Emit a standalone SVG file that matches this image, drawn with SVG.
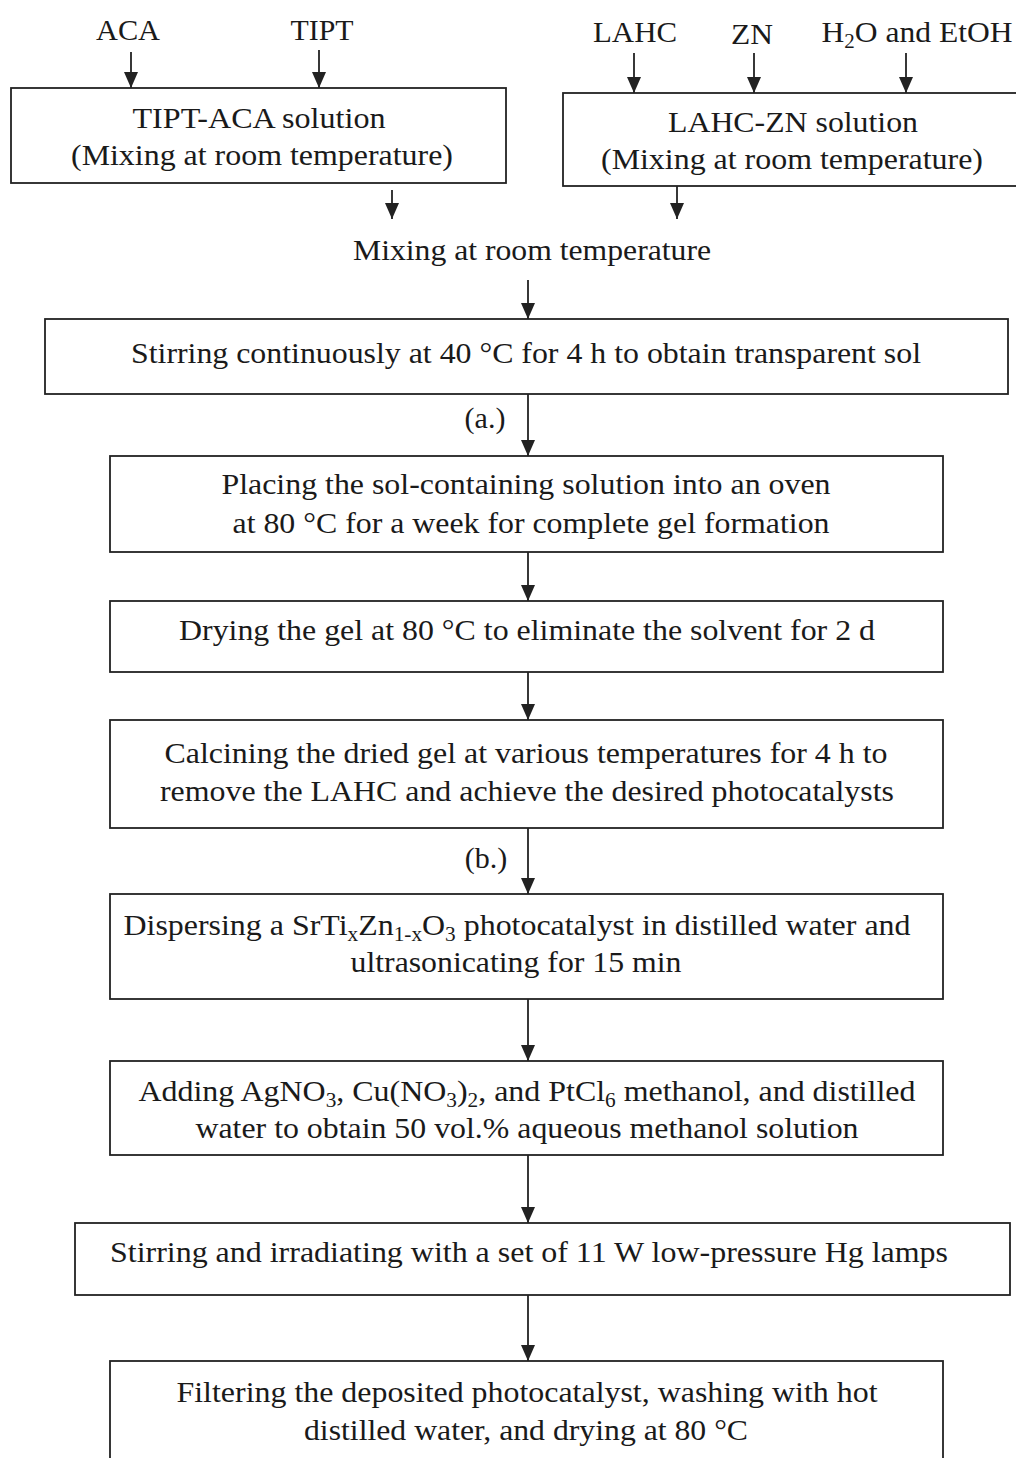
<svg xmlns="http://www.w3.org/2000/svg" width="1016" height="1458" viewBox="0 0 1016 1458">
<style>
text{font-family:"Liberation Serif","Times New Roman",serif;font-size:30px;fill:#1a1a1a;text-anchor:middle}
.box{fill:#fff;stroke:#222;stroke-width:1.8}
.con{stroke:#222;stroke-width:1.8;fill:none}
.sub{font-size:20px}
</style>
<defs>
<marker id="ah" markerUnits="userSpaceOnUse" markerWidth="18" markerHeight="14" refX="16" refY="7" orient="auto" viewBox="0 0 18 14">
<path d="M0,0 L16,7 L0,14 Z" fill="#222"/>
</marker>
</defs>
<rect width="1016" height="1458" fill="#fff"/>
<g id="inputs">
<text x="128" y="40" textLength="64" lengthAdjust="spacingAndGlyphs">ACA</text>
<text x="322" y="40" textLength="63" lengthAdjust="spacingAndGlyphs">TIPT</text>
<text x="635" y="42" textLength="84" lengthAdjust="spacingAndGlyphs">LAHC</text>
<text x="752" y="44" textLength="42" lengthAdjust="spacingAndGlyphs">ZN</text>
<text x="917" y="42" textLength="191" lengthAdjust="spacingAndGlyphs">H<tspan class="sub" dy="6">2</tspan><tspan dy="-6">O and EtOH</tspan></text>
</g>
<g id="box1"><rect class="box" x="11" y="88" width="495" height="95"/>
<text x="259" y="128" textLength="253" lengthAdjust="spacingAndGlyphs">TIPT-ACA solution</text>
<text x="262" y="165" textLength="382" lengthAdjust="spacingAndGlyphs">(Mixing at room temperature)</text></g>
<g id="box2"><rect class="box" x="563" y="93" width="460" height="93"/>
<text x="793" y="132" textLength="250" lengthAdjust="spacingAndGlyphs">LAHC-ZN solution</text>
<text x="792" y="169" textLength="382" lengthAdjust="spacingAndGlyphs">(Mixing at room temperature)</text></g>
<g id="mix"><text x="532" y="260" textLength="358" lengthAdjust="spacingAndGlyphs">Mixing at room temperature</text></g>
<g id="box3"><rect class="box" x="45" y="319" width="963" height="75"/>
<text x="526" y="363" textLength="790" lengthAdjust="spacingAndGlyphs">Stirring continuously at 40 °C for 4 h to obtain transparent sol</text></g>
<g id="box4"><rect class="box" x="110" y="456" width="833" height="96"/>
<text x="526" y="494" textLength="609" lengthAdjust="spacingAndGlyphs">Placing the sol-containing solution into an oven</text>
<text x="531" y="533" textLength="597" lengthAdjust="spacingAndGlyphs">at 80 °C for a week for complete gel formation</text></g>
<g id="box5"><rect class="box" x="110" y="601" width="833" height="71"/>
<text x="527" y="640" textLength="696" lengthAdjust="spacingAndGlyphs">Drying the gel at 80 °C to eliminate the solvent for 2 d</text></g>
<g id="box6"><rect class="box" x="110" y="720" width="833" height="108"/>
<text x="526" y="763" textLength="723" lengthAdjust="spacingAndGlyphs">Calcining the dried gel at various temperatures for 4 h to</text>
<text x="527" y="801" textLength="734" lengthAdjust="spacingAndGlyphs">remove the LAHC and achieve the desired photocatalysts</text></g>
<g id="box7"><rect class="box" x="110" y="894" width="833" height="105"/>
<text x="517" y="935" textLength="787" lengthAdjust="spacingAndGlyphs">Dispersing a SrTi<tspan class="sub" dy="6">x</tspan><tspan dy="-6">Zn</tspan><tspan class="sub" dy="6">1-x</tspan><tspan dy="-6">O</tspan><tspan class="sub" dy="6">3</tspan><tspan dy="-6"> photocatalyst in distilled water and</tspan></text>
<text x="516" y="972" textLength="331" lengthAdjust="spacingAndGlyphs">ultrasonicating for 15 min</text></g>
<g id="box8"><rect class="box" x="110" y="1061" width="833" height="94"/>
<text x="527" y="1101" textLength="777" lengthAdjust="spacingAndGlyphs">Adding AgNO<tspan class="sub" dy="6">3</tspan><tspan dy="-6">, Cu(NO</tspan><tspan class="sub" dy="6">3</tspan><tspan dy="-6">)</tspan><tspan class="sub" dy="6">2</tspan><tspan dy="-6">, and PtCl</tspan><tspan class="sub" dy="6">6</tspan><tspan dy="-6"> methanol, and distilled</tspan></text>
<text x="527" y="1138" textLength="663" lengthAdjust="spacingAndGlyphs">water to obtain 50 vol.% aqueous methanol solution</text></g>
<g id="box9"><rect class="box" x="75" y="1223" width="935" height="72"/>
<text x="529" y="1262" textLength="838" lengthAdjust="spacingAndGlyphs">Stirring and irradiating with a set of 11 W low-pressure Hg lamps</text></g>
<g id="box10"><rect class="box" x="110" y="1361" width="833" height="120"/>
<text x="527" y="1402" textLength="701" lengthAdjust="spacingAndGlyphs">Filtering the deposited photocatalyst, washing with hot</text>
<text x="526" y="1440" textLength="444" lengthAdjust="spacingAndGlyphs">distilled water, and drying at 80 °C</text></g>
<g id="connectors">
<line class="con" x1="131" y1="52" x2="131" y2="88" marker-end="url(#ah)"/>
<line class="con" x1="319" y1="50" x2="319" y2="88" marker-end="url(#ah)"/>
<line class="con" x1="634" y1="53" x2="634" y2="93" marker-end="url(#ah)"/>
<line class="con" x1="754" y1="53" x2="754" y2="93" marker-end="url(#ah)"/>
<line class="con" x1="906" y1="53" x2="906" y2="93" marker-end="url(#ah)"/>
<line class="con" x1="392" y1="190" x2="392" y2="219" marker-end="url(#ah)"/>
<line class="con" x1="677" y1="186" x2="677" y2="219" marker-end="url(#ah)"/>
<line class="con" x1="528" y1="280" x2="528" y2="319" marker-end="url(#ah)"/>
<line class="con" x1="528" y1="394" x2="528" y2="456" marker-end="url(#ah)"/>
<text x="485" y="428">(a.)</text>
<line class="con" x1="528" y1="552" x2="528" y2="601" marker-end="url(#ah)"/>
<line class="con" x1="528" y1="672" x2="528" y2="720" marker-end="url(#ah)"/>
<line class="con" x1="528" y1="828" x2="528" y2="894" marker-end="url(#ah)"/>
<text x="486" y="868">(b.)</text>
<line class="con" x1="528" y1="999" x2="528" y2="1061" marker-end="url(#ah)"/>
<line class="con" x1="528" y1="1155" x2="528" y2="1223" marker-end="url(#ah)"/>
<line class="con" x1="528" y1="1295" x2="528" y2="1361" marker-end="url(#ah)"/>
</g>
</svg>
